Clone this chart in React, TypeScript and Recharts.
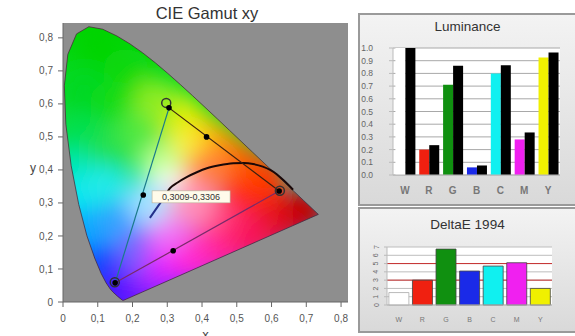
import React from 'react';
import {
  ComposedChart,
  Scatter,
  XAxis,
  YAxis,
  CartesianGrid,
  Label,
  BarChart,
  Bar,
  Cell,
} from 'recharts';

// ---------- CIE data ----------
const spectralLocus = [
  { x: 0.1741, y: 0.005 }, { x: 0.1714, y: 0.0051 }, { x: 0.1644, y: 0.0109 },
  { x: 0.1566, y: 0.0177 }, { x: 0.144, y: 0.0297 }, { x: 0.1355, y: 0.0399 },
  { x: 0.1241, y: 0.0578 }, { x: 0.1096, y: 0.0868 }, { x: 0.0913, y: 0.1327 },
  { x: 0.0687, y: 0.2007 }, { x: 0.0454, y: 0.295 }, { x: 0.0235, y: 0.4127 },
  { x: 0.0082, y: 0.5384 }, { x: 0.0039, y: 0.6548 }, { x: 0.0139, y: 0.7502 },
  { x: 0.0389, y: 0.812 }, { x: 0.0743, y: 0.8338 }, { x: 0.1142, y: 0.8262 },
  { x: 0.1547, y: 0.8059 }, { x: 0.1929, y: 0.7816 }, { x: 0.2296, y: 0.7543 },
  { x: 0.2658, y: 0.7243 }, { x: 0.3016, y: 0.6923 }, { x: 0.3373, y: 0.6589 },
  { x: 0.3731, y: 0.6245 }, { x: 0.4087, y: 0.5896 }, { x: 0.4441, y: 0.5547 },
  { x: 0.4788, y: 0.5202 }, { x: 0.5125, y: 0.4866 }, { x: 0.5448, y: 0.4544 },
  { x: 0.5752, y: 0.4242 }, { x: 0.6029, y: 0.3965 }, { x: 0.627, y: 0.3725 },
  { x: 0.6482, y: 0.3514 }, { x: 0.6658, y: 0.334 }, { x: 0.6915, y: 0.3083 },
  { x: 0.7079, y: 0.292 }, { x: 0.719, y: 0.2809 }, { x: 0.73, y: 0.27 },
  { x: 0.7347, y: 0.2653 },
];

const chromaAnchors = [
  { x: 0.1, y: 0.78, c: '#00d400' },
  { x: 0.18, y: 0.7, c: '#10d810' },
  { x: 0.06, y: 0.64, c: '#00d820' },
  { x: 0.16, y: 0.6, c: '#18dc18' },
  { x: 0.05, y: 0.5, c: '#00e050' },
  { x: 0.14, y: 0.47, c: '#20e050' },
  { x: 0.22, y: 0.52, c: '#50e840' },
  { x: 0.03, y: 0.4, c: '#00e8b0' },
  { x: 0.04, y: 0.32, c: '#00e8f0' },
  { x: 0.12, y: 0.35, c: '#20eae8' },
  { x: 0.07, y: 0.22, c: '#00a8ff' },
  { x: 0.16, y: 0.24, c: '#30a0ff' },
  { x: 0.11, y: 0.11, c: '#1048ff' },
  { x: 0.16, y: 0.04, c: '#2a10ff' },
  { x: 0.21, y: 0.05, c: '#6a18ff' },
  { x: 0.22, y: 0.15, c: '#7a60ff' },
  { x: 0.28, y: 0.08, c: '#b020ff' },
  { x: 0.31, y: 0.14, c: '#e828ff' },
  { x: 0.3, y: 0.22, c: '#f070f8' },
  { x: 0.38, y: 0.12, c: '#ff20d8' },
  { x: 0.42, y: 0.18, c: '#ff30c0' },
  { x: 0.47, y: 0.15, c: '#ff20a0' },
  { x: 0.5, y: 0.22, c: '#ff2070' },
  { x: 0.56, y: 0.19, c: '#f81858' },
  { x: 0.64, y: 0.24, c: '#e01030' },
  { x: 0.42, y: 0.27, c: '#ff4888' },
  { x: 0.6, y: 0.3, c: '#e81818' },
  { x: 0.7, y: 0.28, c: '#c40000' },
  { x: 0.52, y: 0.34, c: '#ff2818' },
  { x: 0.58, y: 0.38, c: '#ff3800' },
  { x: 0.5, y: 0.43, c: '#ff5800' },
  { x: 0.44, y: 0.48, c: '#ff8c00' },
  { x: 0.38, y: 0.52, c: '#ffc800' },
  { x: 0.33, y: 0.57, c: '#e8f000' },
  { x: 0.27, y: 0.61, c: '#90ec20' },
  { x: 0.34, y: 0.45, c: '#f8f040' },
  { x: 0.41, y: 0.39, c: '#ff8040' },
  { x: 0.28, y: 0.41, c: '#c0ff90' },
  { x: 0.31, y: 0.33, c: '#ffffff' },
  { x: 0.37, y: 0.3, c: '#ff90b8' },
  { x: 0.25, y: 0.3, c: '#a8e0ff' },
];

const planckBlue = [
  { x: 0.25, y: 0.255 }, { x: 0.27, y: 0.285 }, { x: 0.29, y: 0.315 },
];
const planckBlack = [
  { x: 0.29, y: 0.315 }, { x: 0.308, y: 0.345 }, { x: 0.33, y: 0.362 },
  { x: 0.357, y: 0.379 }, { x: 0.385, y: 0.393 }, { x: 0.414, y: 0.405 },
  { x: 0.45, y: 0.414 }, { x: 0.49, y: 0.42 }, { x: 0.52, y: 0.421 },
  { x: 0.547, y: 0.418 }, { x: 0.575, y: 0.41 }, { x: 0.596, y: 0.4 },
  { x: 0.615, y: 0.387 }, { x: 0.633, y: 0.37 }, { x: 0.648, y: 0.355 },
  { x: 0.662, y: 0.34 },
];

const edgeGR = [{ x: 0.305, y: 0.588 }, { x: 0.622, y: 0.336 }];
const edgeGB = [{ x: 0.305, y: 0.588 }, { x: 0.15, y: 0.058 }];
const edgeBR = [{ x: 0.15, y: 0.058 }, { x: 0.622, y: 0.336 }];

const targetPoints = [
  { x: 0.297, y: 0.603 }, { x: 0.624, y: 0.337 }, { x: 0.149, y: 0.06 },
];
const measuredPoints = [
  { x: 0.305, y: 0.588 }, { x: 0.413, y: 0.5 }, { x: 0.622, y: 0.336 },
  { x: 0.231, y: 0.324 }, { x: 0.317, y: 0.155 }, { x: 0.15, y: 0.058 },
];
const whitePoint = [{ x: 0.3009, y: 0.3306 }];

const xTicks = [0, 0.1, 0.2, 0.3, 0.4, 0.5, 0.6, 0.7, 0.8];
const yTicks = [0, 0.1, 0.2, 0.3, 0.4, 0.5, 0.6, 0.7, 0.8];

// ---------- Bar data ----------
const categories = ['W', 'R', 'G', 'B', 'C', 'M', 'Y'];
const barColors = ['#ffffff', '#f02010', '#109010', '#1a2ae8', '#10f0f0', '#f020f0', '#f0f000'];
const lumMeasured = [1.0, 0.2, 0.71, 0.06, 0.8, 0.28, 0.925];
const lumTarget = [1.0, 0.235, 0.86, 0.075, 0.865, 0.335, 0.965];
const lumTicks = [0, 0.1, 0.2, 0.3, 0.4, 0.5, 0.6, 0.7, 0.8, 0.9, 1.0];
const deltaE = [1.5, 3.0, 6.75, 4.1, 4.7, 5.1, 2.0];
const deltaTicks = [0, 1, 2, 3, 4, 5, 6, 7];
const deltaThresholds = [3, 5];

const lumData = categories.map((c, i) => ({ cat: c, measured: lumMeasured[i], target: lumTarget[i] }));
const deltaData = categories.map((c, i) => ({ cat: c, de: deltaE[i] }));

const FONT = '"Liberation Sans", Arial, sans-serif';
const comma = (v: number) => String(v).replace('.', ',');
const pts = (p: any[]) => p.map((q) => `${q.x},${q.y}`).join(' ');
const nothing = () => <g />;

const LocusBase = (p: any) => (
  <g>
    <defs>
      <linearGradient id="locusBase" x1="0" y1="0" x2="0" y2="1">
        <stop offset="0" stopColor="#00d400" />
        <stop offset="0.45" stopColor="#10e050" />
        <stop offset="0.65" stopColor="#00e0f0" />
        <stop offset="0.88" stopColor="#2050ff" />
        <stop offset="1" stopColor="#5020ff" />
      </linearGradient>
      <clipPath id="locusClip">
        <polygon points={pts(p.points)} />
      </clipPath>
      <filter id="chromaBlur" x="-20%" y="-20%" width="140%" height="140%">
        <feGaussianBlur stdDeviation="11" />
      </filter>
    </defs>
    <polygon points={pts(p.points)} fill="url(#locusBase)" />
  </g>
);

const ChromaBlobs = (p: any) => (
  <g clipPath="url(#locusClip)">
    <g filter="url(#chromaBlur)">
      {p.points.map((q: any, i: number) => (
        <circle key={i} cx={q.x} cy={q.y} r={22} fill={chromaAnchors[i].c} />
      ))}
    </g>
  </g>
);

const LocusOutline = (p: any) => (
  <polygon points={pts(p.points)} fill="none" stroke="#4a2a3a" strokeWidth={1} strokeOpacity={0.75} />
);

const TargetRing = (p: any) => (
  <circle cx={p.cx} cy={p.cy} r={4.5} fill="none" stroke="#333" strokeWidth={1.5} />
);
const MeasuredDot = (p: any) => <circle cx={p.cx} cy={p.cy} r={2.8} fill="#000" />;
const WhiteLabel = (p: any) => (
  <g>
    <rect x={p.cx - 15.5} y={p.cy - 2} width={78} height={12} fill="#fffbea" stroke="#b8b09a" strokeWidth={0.6} />
    <text x={p.cx + 23.5} y={p.cy + 7.3} fontSize={9} textAnchor="middle" fill="#333" fontFamily={FONT}>
      {comma(p.payload.x) + '-' + comma(p.payload.y)}
    </text>
  </g>
);

const DeltaTick = (p: any) => (
  <text
    x={p.x}
    y={p.y}
    transform={`rotate(-90 ${p.x} ${p.y})`}
    textAnchor="middle"
    dominantBaseline="central"
    fontSize={7}
    fill="#666"
    fontFamily={FONT}
  >
    {p.payload.value}
  </text>
);

const panelStyle: React.CSSProperties = {
  position: 'absolute',
  left: 358,
  width: 217,
  boxSizing: 'border-box',
  border: '2px solid #9a9a9a',
  borderRight: 'none',
  background: 'linear-gradient(#f3f3f3, #d9d9d9)',
};

const titleStyle: React.CSSProperties = {
  position: 'absolute',
  left: 0,
  width: '100%',
  textAlign: 'center',
  fontFamily: FONT,
  color: '#333',
  lineHeight: '16px',
};

export default function App() {
  return (
    <div style={{ position: 'absolute', left: 0, top: 0, width: 575, height: 336, background: '#fff', overflow: 'hidden' }}>
      <div style={{ ...titleStyle, left: 57, width: 300, top: 5, fontSize: 16.5 }}>CIE Gamut xy</div>
      <div style={{ position: 'absolute', left: 0, top: 0 }}>
        <ComposedChart width={350} height={336} margin={{ top: 23, right: 2, bottom: 4, left: 0 }}>
          <CartesianGrid fill="#8e8e8e" horizontal={false} vertical={false} />
          <XAxis
            type="number"
            dataKey="x"
            domain={[0, 0.82]}
            ticks={xTicks}
            interval={0}
            allowDataOverflow
            tickFormatter={comma}
            height={30}
            tickSize={5}
            tickMargin={8}
            stroke="#666"
            tick={{ fontSize: 10, fill: '#555', fontFamily: FONT }}
          >
            <Label value="x" position="insideBottom" offset={-7} fontSize={13} fill="#444" fontFamily={FONT} />
          </XAxis>
          <YAxis
            type="number"
            dataKey="y"
            domain={[0, 0.845]}
            ticks={yTicks}
            interval={0}
            allowDataOverflow
            tickFormatter={comma}
            width={63}
            tickSize={5}
            tickMargin={5}
            stroke="#666"
            tick={{ fontSize: 10, fill: '#555', fontFamily: FONT }}
          >
            <Label value="y" position="insideLeft" offset={30} dy={5} fontSize={12} fill="#444" fontFamily={FONT} />
          </YAxis>
          <Scatter data={spectralLocus} isAnimationActive={false} shape={nothing} line={LocusBase} />
          <Scatter data={chromaAnchors} isAnimationActive={false} shape={nothing} line={ChromaBlobs} />
          <Scatter data={spectralLocus} isAnimationActive={false} shape={nothing} line={LocusOutline} />
          <Scatter data={planckBlue} isAnimationActive={false} shape={nothing} line={{ stroke: '#23308a', strokeWidth: 2, fill: 'none' }} />
          <Scatter data={planckBlack} isAnimationActive={false} shape={nothing} line={{ stroke: '#1a0808', strokeWidth: 2, fill: 'none' }} lineJointType="monotoneX" />
          <Scatter data={edgeGR} isAnimationActive={false} shape={nothing} line={{ stroke: '#3a2010', strokeWidth: 1.2, fill: 'none' }} />
          <Scatter data={edgeGB} isAnimationActive={false} shape={nothing} line={{ stroke: '#1a7a8a', strokeWidth: 1.2, fill: 'none' }} />
          <Scatter data={edgeBR} isAnimationActive={false} shape={nothing} line={{ stroke: '#7a2a6a', strokeWidth: 1.2, fill: 'none' }} />
          <Scatter data={whitePoint} isAnimationActive={false} shape={WhiteLabel} />
          <Scatter data={targetPoints} isAnimationActive={false} shape={TargetRing} />
          <Scatter data={measuredPoints} isAnimationActive={false} shape={MeasuredDot} />
        </ComposedChart>
      </div>

      <div style={{ ...panelStyle, top: 13, height: 193 }}>
        <div style={{ ...titleStyle, top: 4, fontSize: 13.5 }}>Luminance</div>
        <div style={{ position: 'absolute', left: -2, top: -2 }}>
          <BarChart
            width={217}
            height={193}
            data={lumData}
            margin={{ top: 35, right: 15, bottom: 11, left: 1 }}
            barCategoryGap="10%"
            barGap={0}
          >
            <CartesianGrid fill="#ffffff" vertical={false} stroke="#a8a8a8" />
            <XAxis
              dataKey="cat"
              height={20}
              tickLine={false}
              tickMargin={6}
              stroke="#b8b8b8"
              tick={{ fontSize: 10, fill: '#777', fontWeight: 700, fontFamily: FONT }}
            />
            <YAxis
              type="number"
              domain={[0, 1]}
              ticks={lumTicks}
              interval={0}
              width={34}
              tickSize={4}
              tickMargin={16}
              stroke="#bbbbbb"
              tickFormatter={(v: number) => v.toFixed(1)}
              tick={{ fontSize: 8.5, fill: '#666', fontFamily: FONT }}
            />
            <Bar dataKey="measured" isAnimationActive={false}>
              {lumData.map((d, i) => (
                <Cell key={d.cat} fill={barColors[i]} />
              ))}
            </Bar>
            <Bar dataKey="target" fill="#000000" isAnimationActive={false} />
          </BarChart>
        </div>
      </div>

      <div style={{ ...panelStyle, top: 207, height: 126 }}>
        <div style={{ ...titleStyle, top: 8, fontSize: 13.5 }}>DeltaE 1994</div>
        <div style={{ position: 'absolute', left: -2, top: -2 }}>
          <BarChart
            width={217}
            height={126}
            data={deltaData}
            margin={{ top: 40, right: 23, bottom: 8, left: 0 }}
            barCategoryGap="8%"
          >
            <CartesianGrid fill="#ffffff" vertical={false} stroke="#bdbdbd" />
            <CartesianGrid vertical={false} stroke="#c83030" horizontalValues={deltaThresholds} />
            <XAxis
              dataKey="cat"
              height={20}
              tickLine={false}
              tickMargin={6}
              stroke="#b8b8b8"
              tick={{ fontSize: 7, fill: '#777', fontFamily: FONT }}
            />
            <YAxis
              type="number"
              domain={[0, 7]}
              ticks={deltaTicks}
              interval={0}
              width={29}
              tickSize={3}
              tickMargin={8}
              stroke="#bbbbbb"
              tick={DeltaTick}
            />
            <Bar dataKey="de" stroke="#444" strokeWidth={0.8} isAnimationActive={false}>
              {deltaData.map((d, i) => (
                <Cell key={d.cat} fill={barColors[i]} stroke={i === 0 ? '#aaa' : '#444'} />
              ))}
            </Bar>
          </BarChart>
        </div>
      </div>
    </div>
  );
}
